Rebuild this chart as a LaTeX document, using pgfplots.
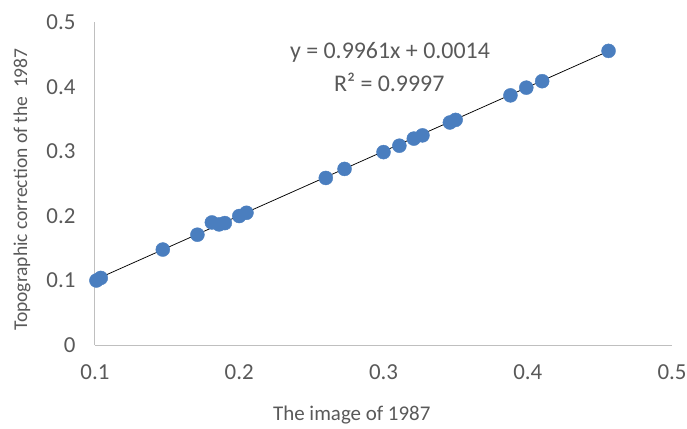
\documentclass[border=0pt]{standalone}
\usepackage{pgfplots}
\pgfplotsset{compat=1.18}
\usepackage{fontspec}
\setmainfont{Carlito}
\definecolor{dotblue}{HTML}{4A7EBF}
\definecolor{txtgray}{HTML}{595959}
\definecolor{axgray}{HTML}{BFBFBF}
\begin{document}
\begin{tikzpicture}[x=1bp,y=1bp]
\path[use as bounding box] (-95,-83) rectangle (592,345);
\begin{axis}[
  at={(0,0)}, anchor=south west,
  scale only axis, width=577bp, height=322.5bp,
  xmin=0.1, xmax=0.5, ymin=0, ymax=0.5,
  xtick={0.1,0.2,0.3,0.4,0.5},
  ytick={0,0.1,0.2,0.3,0.4,0.5},
  axis x line*=bottom, axis y line*=left,
  axis line style={draw=axgray, line width=1bp},
  major tick length=0pt,
  /pgf/number format/assume math mode=true,
  /pgf/number format/fixed, /pgf/number format/precision=1,
  tick label style={font=\fontsize{23}{26}\selectfont, text=txtgray},
  yticklabel style={xshift=-16bp},
  xticklabel style={yshift=-16bp},
  xlabel={The image of 1987},
  ylabel={Topographic correction of the \ 1987},
  label style={text=txtgray},
  xlabel style={font=\fontsize{21}{24}\selectfont, at={(axis description cs:0.445,0)}, anchor=center, yshift=-70bp},
  ylabel style={font=\fontsize{19.6}{22}\selectfont, at={(axis description cs:0,0.482)}, anchor=center, yshift=73bp},
  clip=false,
]
\addplot[only marks, mark=*, mark size=7bp, mark options={draw=dotblue, fill=dotblue}] coordinates {
(0.101,0.100) (0.104,0.104) (0.147,0.148) (0.171,0.171) (0.181,0.190)
(0.186,0.187) (0.190,0.189) (0.200,0.200) (0.205,0.205) (0.260,0.259)
(0.273,0.273) (0.300,0.299) (0.311,0.309) (0.321,0.320) (0.327,0.325)
(0.346,0.345) (0.350,0.349) (0.388,0.387) (0.399,0.399) (0.410,0.409)
(0.456,0.456)
};
\addplot[black, line width=0.75bp] coordinates {(0.101,0.1020) (0.456,0.4556)};
\node[font=\fontsize{24}{28}\selectfont, text=txtgray] at (axis cs:0.3045,0.4543) {y = 0.9961x + 0.0014};
\node[font=\fontsize{24}{28}\selectfont, text=txtgray] at (axis cs:0.3040,0.4078) {R² = 0.9997};
\end{axis}
\end{tikzpicture}
\end{document}
